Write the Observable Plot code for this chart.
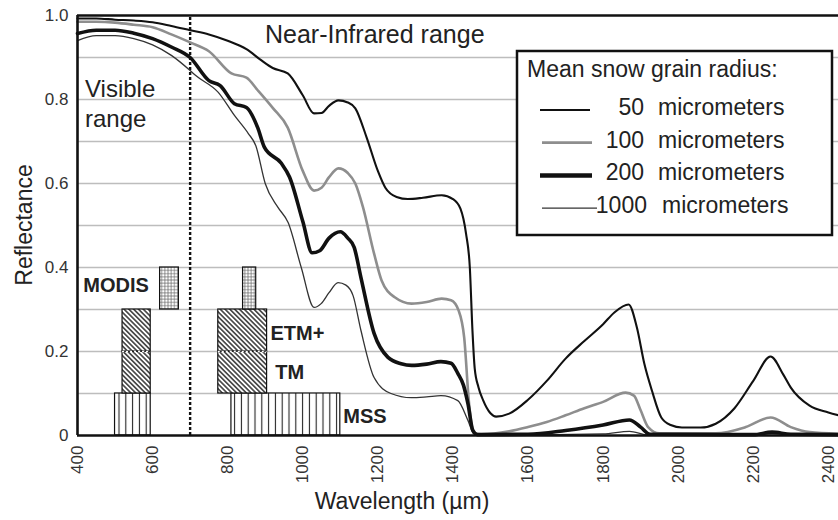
<!DOCTYPE html>
<html>
<head>
<meta charset="utf-8">
<script src="https://cdn.jsdelivr.net/npm/d3@7"></script>
<script src="https://cdn.jsdelivr.net/npm/@observablehq/plot@0.6"></script>
<style>
  html, body { margin: 0; padding: 0; background: #fff; }
  svg { display: block; }
</style>
</head>
<body>
<div id="chart"></div>
<script>
// ---- Data ----
const xTicks = [400, 600, 800, 1000, 1200, 1400, 1600, 1800, 2000, 2200, 2400];
const yTicks = [0, 0.2, 0.4, 0.6, 0.8, 1.0];
const yTickLabels = ["0", "0.2", "0.4", "0.6", "0.8", "1.0"];
const gridValues = [0.1, 0.2, 0.3, 0.4, 0.5, 0.6, 0.7, 0.8, 0.9];

const seriesNames = ["50", "100", "200", "1000"];

const wl50 = [400,450,500,550,600,650,700,750,800,850,890,920,960,1000,1030,1050,1070,1095,1120,1140,1170,1200,1220,1250,1280,1320,1370,1400,1420,1435,1445,1452,1458,1468,1480,1500,1515,1550,1600,1650,1700,1750,1800,1830,1868,1890,1910,1930,1955,1980,2010,2060,2100,2150,2200,2246,2280,2300,2350,2400,2427];
const r50  = [0.993,0.993,0.99,0.988,0.984,0.975,0.965,0.955,0.94,0.92,0.893,0.875,0.862,0.81,0.767,0.768,0.785,0.798,0.793,0.779,0.71,0.63,0.59,0.568,0.563,0.566,0.572,0.563,0.54,0.48,0.40,0.25,0.16,0.115,0.085,0.053,0.045,0.052,0.085,0.13,0.183,0.225,0.265,0.293,0.312,0.257,0.17,0.107,0.043,0.025,0.019,0.019,0.028,0.065,0.13,0.188,0.145,0.114,0.071,0.055,0.048];

const wl100 = [400,450,500,550,600,650,700,750,810,850,880,920,960,1000,1030,1050,1070,1095,1120,1140,1160,1190,1210,1245,1290,1330,1370,1395,1415,1430,1443,1456,1475,1550,1600,1650,1700,1750,1800,1860,1882,1900,1920,1950,2100,2180,2246,2300,2350,2427];
const r100  = [0.985,0.985,0.983,0.978,0.972,0.955,0.936,0.915,0.862,0.852,0.822,0.78,0.733,0.63,0.583,0.59,0.615,0.636,0.625,0.60,0.545,0.433,0.369,0.329,0.314,0.318,0.326,0.322,0.298,0.233,0.076,0.007,0.003,0.01,0.02,0.032,0.048,0.065,0.08,0.102,0.095,0.06,0.02,0.005,0.005,0.02,0.043,0.02,0.008,0.004];

const wl200 = [400,450,500,550,600,650,700,750,780,818,850,880,898,943,965,1000,1025,1045,1070,1100,1120,1137,1155,1190,1227,1262,1290,1330,1368,1395,1413,1428,1440,1453,1465,1600,1700,1800,1870,1900,1925,2200,2250,2300,2427];
const r200  = [0.957,0.965,0.965,0.958,0.945,0.925,0.90,0.845,0.833,0.79,0.781,0.733,0.686,0.648,0.615,0.51,0.435,0.44,0.47,0.485,0.47,0.448,0.376,0.243,0.186,0.171,0.167,0.17,0.176,0.172,0.148,0.12,0.076,0.012,0.002,0.003,0.012,0.025,0.037,0.02,0.003,0.002,0.008,0.003,0.002];

const wl1000 = [400,450,500,550,600,650,700,715,775,818,855,875,900,934,961,996,1030,1049,1070,1094,1115,1134,1155,1190,1235,1289,1330,1368,1413,1440,1455,1470,1800,1870,1920,2427];
const r1000  = [0.94,0.952,0.952,0.945,0.93,0.905,0.869,0.857,0.817,0.762,0.719,0.69,0.60,0.543,0.507,0.40,0.305,0.314,0.34,0.364,0.358,0.333,0.25,0.138,0.10,0.09,0.092,0.095,0.083,0.036,0.005,0.001,0.004,0.01,0.001,0.001];

// satellite bands
const bandName = ["MSS","MSS","TM","TM","ETM+","ETM+","MODIS","MODIS"];
const bandX1 = [500, 810, 520, 775, 520, 775, 620, 841];
const bandX2 = [595, 1100, 595, 905, 595, 905, 670, 876];
const bandY1 = [0, 0, 0.1, 0.1, 0.2, 0.2, 0.3, 0.3];
const bandY2 = [0.1, 0.1, 0.2, 0.2, 0.3, 0.3, 0.4, 0.4];

const bandLabels = ["MODIS", "ETM+", "TM", "MSS"];
const bandLabelX = [590, 914, 927, 1108];
const bandLabelY = [0.356, 0.242, 0.149, 0.046];

const visibleLimit = 700;

// ---- Build tables ----
const toRows = (w, r) => w.map((x, i) => ({ w: x, r: r[i] }));
const s50 = toRows(wl50, r50), s100 = toRows(wl100, r100), s200 = toRows(wl200, r200), s1000 = toRows(wl1000, r1000);
const bands = bandName.map((n, i) => ({ name: n, x1: bandX1[i], x2: bandX2[i], y1: bandY1[i], y2: bandY2[i] }));
const labels = bandLabels.map((n, i) => ({ name: n, x: bandLabelX[i], y: bandLabelY[i] }));
const tmBands = bands.filter(d => d.name === "TM");

const FONT = "Liberation Sans, Arial, Helvetica, sans-serif";

const plot = Plot.plot({
  width: 838,
  height: 520,
  marginLeft: 77,
  marginRight: 0,
  marginTop: 15,
  marginBottom: 85,
  style: { fontFamily: FONT, fontSize: "17px", color: "#333", background: "#fff", overflow: "visible" },
  x: { domain: [400, 2427], ticks: xTicks, tickRotate: -90, tickSize: 0, tickPadding: 10, label: null, tickFormat: d => String(d) },
  y: { domain: [0, 1], ticks: yTicks, tickSize: 0, tickPadding: 9, label: null,
       tickFormat: d => yTickLabels[yTicks.findIndex(t => Math.abs(t - d) < 1e-9)] },
  marks: [
    Plot.ruleY(gridValues, { stroke: "#bdbdbd", strokeWidth: 1.3 }),
    Plot.rect(bands.filter(d => d.name === "MSS"), { x1: "x1", x2: "x2", y1: "y1", y2: "y2", fill: "url(#vhatch)", stroke: "#111", strokeWidth: 1.2 }),
    Plot.rect(bands.filter(d => d.name === "TM" || d.name === "ETM+"), { x1: "x1", x2: "x2", y1: "y1", y2: "y2", fill: "url(#dhatch)", stroke: "#111", strokeWidth: 1.2 }),
    Plot.rect(bands.filter(d => d.name === "MODIS"), { x1: "x1", x2: "x2", y1: "y1", y2: "y2", fill: "url(#grid)", stroke: "#111", strokeWidth: 1.2 }),
    Plot.ruleY(tmBands, { y: "y2", x1: "x1", x2: "x2", stroke: "#fff", strokeWidth: 1.6, strokeDasharray: "2,2" }),
    Plot.text(labels.filter(d => d.name === "MODIS"), { x: "x", y: "y", text: "name", textAnchor: "end", fontWeight: "bold", fontSize: 20, fill: "#222", lineAnchor: "middle" }),
    Plot.text(labels.filter(d => d.name !== "MODIS"), { x: "x", y: "y", text: "name", textAnchor: "start", fontWeight: "bold", fontSize: 20, fill: "#222", lineAnchor: "middle" }),
    Plot.ruleX([visibleLimit], { y1: 0, y2: 1, stroke: "#111", strokeWidth: 2.4, strokeDasharray: "3,2" }),
    Plot.line(s1000, { x: "w", y: "r", stroke: "#333", strokeWidth: 1.3, curve: "monotone-x" }),
    Plot.line(s100, { x: "w", y: "r", stroke: "#8e8e8e", strokeWidth: 2.6, curve: "monotone-x" }),
    Plot.line(s200, { x: "w", y: "r", stroke: "#111", strokeWidth: 3.6, curve: "monotone-x" }),
    Plot.line(s50, { x: "w", y: "r", stroke: "#111", strokeWidth: 2.1, curve: "monotone-x" }),
    Plot.ruleY([0, 1], { stroke: "#111", strokeWidth: 2.6 }),
    Plot.ruleX([400], { y1: 0, y2: 1, stroke: "#111", strokeWidth: 2.6 })
  ]
});

document.getElementById("chart").appendChild(plot);

const svg = d3.select(plot);
const defs = svg.insert("defs", ":first-child");
// vertical hatch (MSS)
const pv = defs.append("pattern").attr("id", "vhatch").attr("patternUnits", "userSpaceOnUse").attr("width", 6.8).attr("height", 10);
pv.append("rect").attr("width", 6.8).attr("height", 10).attr("fill", "#fff");
pv.append("line").attr("x1", 3.4).attr("x2", 3.4).attr("y1", 0).attr("y2", 10).attr("stroke", "#222").attr("stroke-width", 1.1);
// diagonal hatch (TM / ETM+)
const pd = defs.append("pattern").attr("id", "dhatch").attr("patternUnits", "userSpaceOnUse").attr("width", 3.4).attr("height", 10).attr("patternTransform", "rotate(-45)");
pd.append("rect").attr("width", 3.4).attr("height", 10).attr("fill", "#fff");
pd.append("line").attr("x1", 1.7).attr("x2", 1.7).attr("y1", 0).attr("y2", 10).attr("stroke", "#333").attr("stroke-width", 1.5);
// fine grid (MODIS)
const pg = defs.append("pattern").attr("id", "grid").attr("patternUnits", "userSpaceOnUse").attr("width", 3.2).attr("height", 3.2);
pg.append("rect").attr("width", 3.2).attr("height", 3.2).attr("fill", "#fff");
pg.append("path").attr("d", "M1.6,0V3.2M0,1.6H3.2").attr("stroke", "#666").attr("stroke-width", 0.7);

const ann = svg.append("g").attr("font-family", FONT).attr("fill", "#222").attr("text-anchor", "start");

// range annotations
ann.append("text").attr("x", 85).attr("y", 97).attr("font-size", 24).text("Visible");
ann.append("text").attr("x", 85).attr("y", 127).attr("font-size", 24).text("range");
ann.append("text").attr("x", 265).attr("y", 43).attr("font-size", 25).text("Near-Infrared range");

// axis titles
ann.append("text").attr("transform", "translate(32,225) rotate(-90)").attr("text-anchor", "middle").attr("font-size", 23).text("Reflectance");
ann.append("text").attr("x", 402).attr("y", 509).attr("text-anchor", "middle").attr("font-size", 23).text("Wavelength (µm)");

// legend
const lg = svg.append("g").attr("font-family", FONT).attr("fill", "#222").attr("text-anchor", "start");
lg.append("rect").attr("x", 517).attr("y", 51).attr("width", 315).attr("height", 184).attr("fill", "#fff").attr("stroke", "#111").attr("stroke-width", 2.5);
lg.append("text").attr("x", 527).attr("y", 77).attr("font-size", 23).text("Mean snow grain radius:");
const legendStyles = [
  { stroke: "#111", w: 2.1, x1: 540, x2: 590 },
  { stroke: "#8e8e8e", w: 2.8, x1: 542, x2: 592 },
  { stroke: "#111", w: 4.5, x1: 540, x2: 592 },
  { stroke: "#333", w: 1.3, x1: 542, x2: 597 }
];
seriesNames.forEach((n, i) => {
  const yy = 110 + i * 32.7;
  const st = legendStyles[i];
  lg.append("line").attr("x1", st.x1).attr("x2", st.x2).attr("y1", yy).attr("y2", yy).attr("stroke", st.stroke).attr("stroke-width", st.w);
  lg.append("text").attr("x", i === 3 ? 647 : 644).attr("y", yy + 5).attr("text-anchor", "end").attr("font-size", 23).text(n);
  lg.append("text").attr("x", i === 3 ? 662 : 658).attr("y", yy + 5).attr("font-size", 23).text("micrometers");
});
</script>
</body>
</html>
